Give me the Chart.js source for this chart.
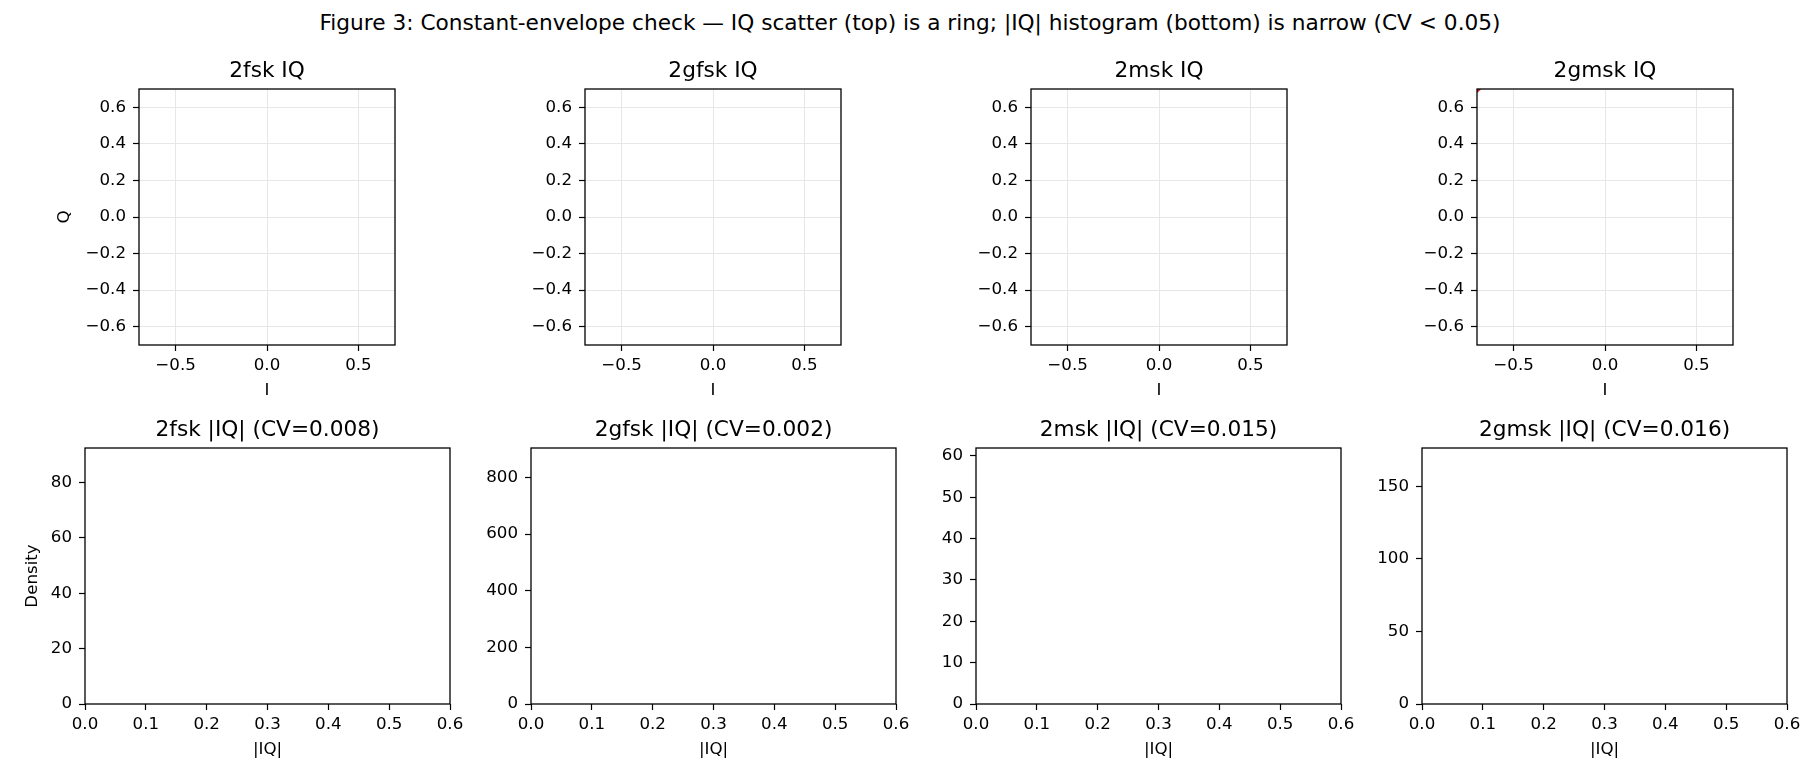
<!DOCTYPE html>
<html>
<head>
<meta charset="utf-8">
<script src="https://cdn.jsdelivr.net/npm/chart.js@4/dist/chart.umd.min.js"></script>
<style>
  body { margin: 0; background: #fff; width: 1820px; height: 780px; position: relative; overflow: hidden; font-family: 'DejaVu Sans', sans-serif; }
  #suptitle { position: absolute; left: 0; top: 10px; width: 1820px; text-align: center; font-size: 21.67px; line-height: 26px; color: #000; }
  canvas { position: absolute; }
</style>
</head>
<body>
<div id="suptitle"></div>

<script>
// ---- data ----
const figTitle = 'Figure 3: Constant-envelope check \u2014 IQ scatter (top) is a ring; |IQ| histogram (bottom) is narrow (CV < 0.05)';
const schemes = ['2fsk', '2gfsk', '2msk', '2gmsk'];
const cvValues = ['0.008', '0.002', '0.015', '0.016'];

const iqXTicks = [-0.5, 0, 0.5];
const iqYTicks = [-0.6, -0.4, -0.2, 0, 0.2, 0.4, 0.6];
const iqLimit = 0.7;

// IQ scatter points visible inside the +-0.7 window (the ring mostly lies outside it)
const iq2fsk = [];
const iq2gfsk = [];
const iq2msk = [];
const iq2gmsk = [{x: -0.699, y: 0.689}, {x: -0.695, y: 0.695}, {x: -0.689, y: 0.699}];

const histXTicks = [0, 0.1, 0.2, 0.3, 0.4, 0.5, 0.6];
const histXMax = 0.6;
const histYMax = [92.5, 904, 61.9, 176.4];
const histYTicks = [
  [0, 20, 40, 60, 80],
  [0, 200, 400, 600, 800],
  [0, 10, 20, 30, 40, 50, 60],
  [0, 50, 100, 150]
];

// histogram bins inside 0..0.6 (all mass sits beyond the shown range)
const hist2fsk = [];
const hist2gfsk = [];
const hist2msk = [];
const hist2gmsk = [];

const iqData = [iq2fsk, iq2gfsk, iq2msk, iq2gmsk];
const histData = [hist2fsk, hist2gfsk, hist2msk, hist2gmsk];

// ---- layout ----
const TICK_FONT = 16.67;
const TITLE_FONT = 21.67;
const TITLE_H = 31;
const X_AXIS_H = 60;
const RIGHT_PAD = 20;

const iqLeft = [139, 585, 1031, 1477];
const iqTop = 89, iqSize = 256, iqAxisW = 90;
const histLeft = [85, 531, 976, 1422];
const histTop = 448, histW = 365, histH = 256, histAxisW = 70;

Chart.defaults.font.family = 'DejaVu Sans';
Chart.defaults.color = '#000';

document.getElementById('suptitle').textContent = figTitle;

const fmt1 = v => (v < 0 ? '\u2212' : '') + Math.abs(v).toFixed(1);

const framePlugin = {
  id: 'frame',
  afterDatasetsDraw(chart) {
    const {ctx, chartArea: a} = chart;
    ctx.save();
    ctx.strokeStyle = '#000';
    ctx.lineWidth = 1.3;
    ctx.strokeRect(a.left, a.top, a.width, a.height);
    ctx.restore();
  }
};

function makeCanvas(left, top, w, h) {
  const c = document.createElement('canvas');
  c.width = w; c.height = h;
  c.style.left = left + 'px'; c.style.top = top + 'px';
  c.style.width = w + 'px'; c.style.height = h + 'px';
  document.body.appendChild(c);
  return c;
}

function axisTitle(text, pad) {
  return {display: !!text, text: text || '', color: '#000', font: {size: TICK_FONT}, padding: pad};
}

// title spans only the plot area so it is centred over the axes box
function chartTitle(text) {
  return {display: true, fullSize: false, text: text, color: '#000', font: {size: TITLE_FONT, weight: 'normal'}, padding: {top: 0, bottom: 5}};
}

// top row: IQ scatter
for (let i = 0; i < schemes.length; i++) {
  const cv = makeCanvas(iqLeft[i] - iqAxisW, iqTop - TITLE_H, iqAxisW + iqSize + RIGHT_PAD, TITLE_H + iqSize + X_AXIS_H);
  new Chart(cv, {
    type: 'scatter',
    data: {
      datasets: [{
        data: iqData[i],
        backgroundColor: '#d62728',
        borderColor: '#d62728',
        pointRadius: 1.6,
        borderWidth: 0,
        clip: 0
      }]
    },
    options: {
      responsive: false,
      animation: false,
      layout: {padding: {left: 0, top: 0, right: RIGHT_PAD, bottom: 0}},
      plugins: {legend: {display: false}, tooltip: {enabled: false}, title: chartTitle(schemes[i] + ' IQ')},
      scales: {
        x: {
          type: 'linear', min: -iqLimit, max: iqLimit,
          afterBuildTicks: s => { s.ticks = iqXTicks.map(v => ({value: v})); },
          afterFit: s => { s.height = X_AXIS_H; },
          ticks: {callback: v => fmt1(v), padding: 5, font: {size: TICK_FONT}, color: '#000', maxRotation: 0, autoSkip: false},
          grid: {color: '#e7e7e7', lineWidth: 1, tickColor: '#000', tickLength: 6, tickWidth: 1.2},
          border: {display: false},
          title: axisTitle('I', {top: 0, bottom: 4.5})
        },
        y: {
          type: 'linear', min: -iqLimit, max: iqLimit,
          afterBuildTicks: s => { s.ticks = iqYTicks.map(v => ({value: v})); },
          afterFit: s => { s.width = iqAxisW; },
          ticks: {callback: v => fmt1(v), padding: 7, font: {size: TICK_FONT}, color: '#000', autoSkip: false},
          grid: {color: '#e7e7e7', lineWidth: 1, tickColor: '#000', tickLength: 6, tickWidth: 1.2},
          border: {display: false},
          title: axisTitle(i === 0 ? 'Q' : '', {top: 6, bottom: 0})
        }
      }
    },
    plugins: [framePlugin]
  });
}

// bottom row: |IQ| histograms
for (let i = 0; i < schemes.length; i++) {
  const cv = makeCanvas(histLeft[i] - histAxisW, histTop - TITLE_H, histAxisW + histW + RIGHT_PAD, TITLE_H + histH + X_AXIS_H);
  new Chart(cv, {
    type: 'bar',
    data: {
      datasets: [{
        data: histData[i],
        backgroundColor: '#1f77b4',
        barPercentage: 1, categoryPercentage: 1
      }]
    },
    options: {
      responsive: false,
      animation: false,
      layout: {padding: {left: 0, top: 0, right: RIGHT_PAD, bottom: 0}},
      plugins: {legend: {display: false}, tooltip: {enabled: false},
        title: chartTitle(schemes[i] + ' |IQ| (CV=' + cvValues[i] + ')')},
      scales: {
        x: {
          type: 'linear', min: 0, max: histXMax, offset: false,
          afterBuildTicks: s => { s.ticks = histXTicks.map(v => ({value: v})); },
          afterFit: s => { s.height = X_AXIS_H; },
          ticks: {callback: v => v.toFixed(1), padding: 5, font: {size: TICK_FONT}, color: '#000', maxRotation: 0, autoSkip: false},
          grid: {offset: false, drawOnChartArea: false, tickColor: '#000', tickLength: 6, tickWidth: 1.2},
          border: {display: false},
          title: axisTitle('|IQ|', {top: 0, bottom: 4.5})
        },
        y: {
          type: 'linear', min: 0, max: histYMax[i],
          afterBuildTicks: s => { s.ticks = histYTicks[i].map(v => ({value: v})); },
          afterFit: s => { s.width = histAxisW; },
          ticks: {callback: v => String(v), padding: 7, font: {size: TICK_FONT}, color: '#000', autoSkip: false},
          grid: {drawOnChartArea: false, tickColor: '#000', tickLength: 6, tickWidth: 1.2},
          border: {display: false},
          title: axisTitle(i === 0 ? 'Density' : '', {top: 8, bottom: 0})
        }
      }
    },
    plugins: [framePlugin]
  });
}
</script>
</body>
</html>
